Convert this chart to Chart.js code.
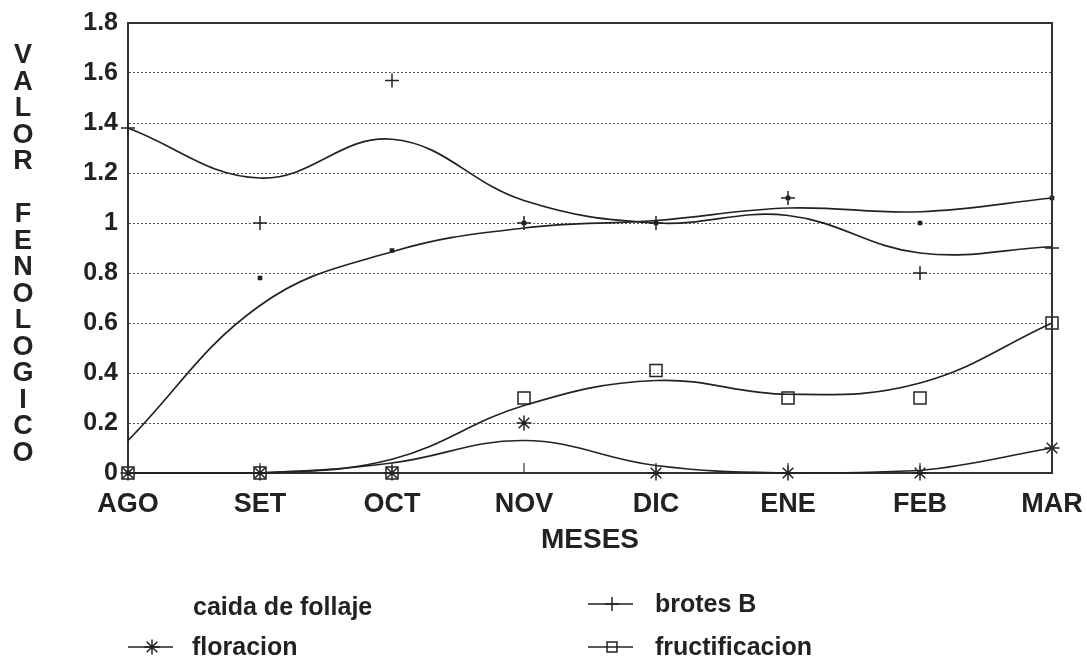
<!DOCTYPE html>
<html>
<head>
<meta charset="utf-8">
<script src="https://cdn.jsdelivr.net/npm/chart.js@4.4.1/dist/chart.umd.min.js"></script>
<style>
html,body{margin:0;padding:0;background:#fff;}
#wrap{width:1087px;height:662px;position:relative;}
</style>
</head>
<body>
<div id="wrap"><canvas id="c" width="1087" height="662"></canvas></div>
<script>
// ---- data ----
const months = ['AGO','SET','OCT','NOV','DIC','ENE','FEB','MAR'];
const yTickLabels = ['0','0.2','0.4','0.6','0.8','1','1.2','1.4','1.6','1.8'];
const seriesNames = ['caida de follaje','brotes B','floracion','fructificacion'];
const yAxisTitle = 'VALOR FENOLOGICO';
const xAxisTitle = 'MESES';

// observed values (markers)
const caidaPts      = [0, 0.78, 0.89, 1.0, 1.0, 1.1, 1.0, 1.1];
const brotesPts     = [1.38, 1.0, 1.57, 1.0, 1.0, 1.1, 0.8, 0.9];
const floracionPts  = [0, 0, 0, 0.2, 0, 0, 0, 0.1];
const fructPts      = [0, 0, 0, 0.3, 0.41, 0.3, 0.3, 0.6];

// fitted curves, read at each month
const caidaFit      = [0.13, 0.67, 0.885, 0.98, 1.01, 1.06, 1.045, 1.10];
const brotesFit     = [1.38, 1.18, 1.335, 1.09, 1.0, 1.03, 0.88, 0.905];
const floracionFit  = [0, 0, 0.04, 0.13, 0.03, 0, 0.01, 0.1];
const fructFit      = [0, 0, 0.055, 0.27, 0.37, 0.315, 0.36, 0.6];

// ---- styles ----
const INK = '#222';
const FONT = "'Liberation Sans', Arial, Helvetica, sans-serif";

function curve(data) {
  return {type:'line', data, borderColor:INK, borderWidth:1.7, pointRadius:0,
          tension:0.4, fill:false, clip:false, order:2};
}
function marks(label, data, style, radius, bg) {
  return {type:'line', label, data, showLine:false, pointStyle:style, pointRadius:radius,
          pointBorderColor:INK, pointBackgroundColor:bg || INK, pointBorderWidth:1.5,
          pointHoverRadius:radius, clip:false, order:1};
}

const markerSets = [
  marks(seriesNames[0], caidaPts, 'rect', 2.2, INK),
  marks(seriesNames[1], brotesPts, 'cross', 7),
  marks(seriesNames[2], floracionPts, 'star', 7.5),
  marks(seriesNames[3], fructPts, 'rect', 8.5, 'rgba(255,255,255,0)')
];

const decor = {
  id:'decor',
  afterDraw(chart) {
    const ctx = chart.ctx, a = chart.chartArea, xs = chart.scales.x;
    ctx.save();
    // frame
    ctx.strokeStyle = '#333'; ctx.lineWidth = 2;
    ctx.beginPath();
    ctx.moveTo(a.left, a.top); ctx.lineTo(a.right, a.top); ctx.lineTo(a.right, a.bottom);
    ctx.stroke();
    // inward ticks
    ctx.lineWidth = 1.2;
    for (let i = 0; i < months.length; i++) {
      const px = xs.getPixelForTick(i);
      ctx.beginPath(); ctx.moveTo(px, a.bottom); ctx.lineTo(px, a.bottom - 10); ctx.stroke();
    }
    // stacked y title
    ctx.fillStyle = INK;
    ctx.font = "bold 27px " + FONT;
    ctx.textAlign = 'center'; ctx.textBaseline = 'middle';
    const chars = yAxisTitle.split('');
    chars.forEach((ch, i) => { if (ch !== ' ') ctx.fillText(ch, 23, 56 + i * 26.5); });
    // x title
    ctx.font = "bold 28px " + FONT;
    ctx.fillText(xAxisTitle, (a.left + a.right) / 2, 540);
    // legend
    const entries = [
      {ds:0, lx:128, y:607, tx:193, line:false},
      {ds:1, lx:588, y:604, tx:655, line:true},
      {ds:2, lx:128, y:647, tx:192, line:true},
      {ds:3, lx:588, y:647, tx:655, line:true}
    ];
    entries.forEach(e => {
      const d = chart.data.datasets[4 + e.ds];
      ctx.strokeStyle = INK; ctx.lineWidth = 1.6;
      if (e.line) {
        ctx.beginPath(); ctx.moveTo(e.lx, e.y); ctx.lineTo(e.lx + 45, e.y); ctx.stroke();
        ctx.lineWidth = 1.5;
        ctx.fillStyle = d.pointBackgroundColor;
        const r = d.pointStyle === 'rect' ? 7 : d.pointRadius;
        Chart.helpers.drawPoint(ctx, {pointStyle:d.pointStyle, radius:r, rotation:0, borderWidth:1.5},
                                e.lx + 24, e.y);
      }
      ctx.fillStyle = INK;
      ctx.font = "bold 25px " + FONT;
      ctx.textAlign = 'left'; ctx.textBaseline = 'middle';
      ctx.fillText(d.label, e.tx, e.y + 1);
    });
    ctx.restore();
  }
};

new Chart(document.getElementById('c'), {
  type:'line',
  data:{
    labels: months,
    datasets:[curve(caidaFit), curve(brotesFit), curve(floracionFit), curve(fructFit), ...markerSets]
  },
  options:{
    responsive:false, animation:false,
    layout:{padding:{left:0, top:23, right:35, bottom:0}},
    plugins:{legend:{display:false}, tooltip:{enabled:false}},
    elements:{line:{capBezierPoints:true}},
    scales:{
      x:{
        type:'category', offset:false,
        grid:{display:false, drawTicks:false},
        border:{display:true, color:'#333', width:2},
        ticks:{color:INK, padding:15, font:{family:FONT, size:27, weight:'bold'}, maxRotation:0, autoSkip:false},
        afterFit(s){ s.height = 662 - 473; s.paddingLeft = 0; s.paddingRight = 0; }
      },
      y:{
        min:0, max:1.8,
        grid:{drawTicks:false, color:(c)=> c.tick && c.tick.value >= 1.79 ? 'rgba(0,0,0,0)' : '#555', lineWidth:1},
        border:{display:true, color:'#333', width:2, dash:[2,2]},
        ticks:{stepSize:0.2, color:INK, padding:10, font:{family:FONT, size:25, weight:'bold'},
               callback:(v, i) => yTickLabels[i]},
        afterFit(s){ s.width = 128; s.paddingTop = 0; s.paddingBottom = 0; }
      }
    }
  },
  plugins:[decor]
});
</script>
</body>
</html>
